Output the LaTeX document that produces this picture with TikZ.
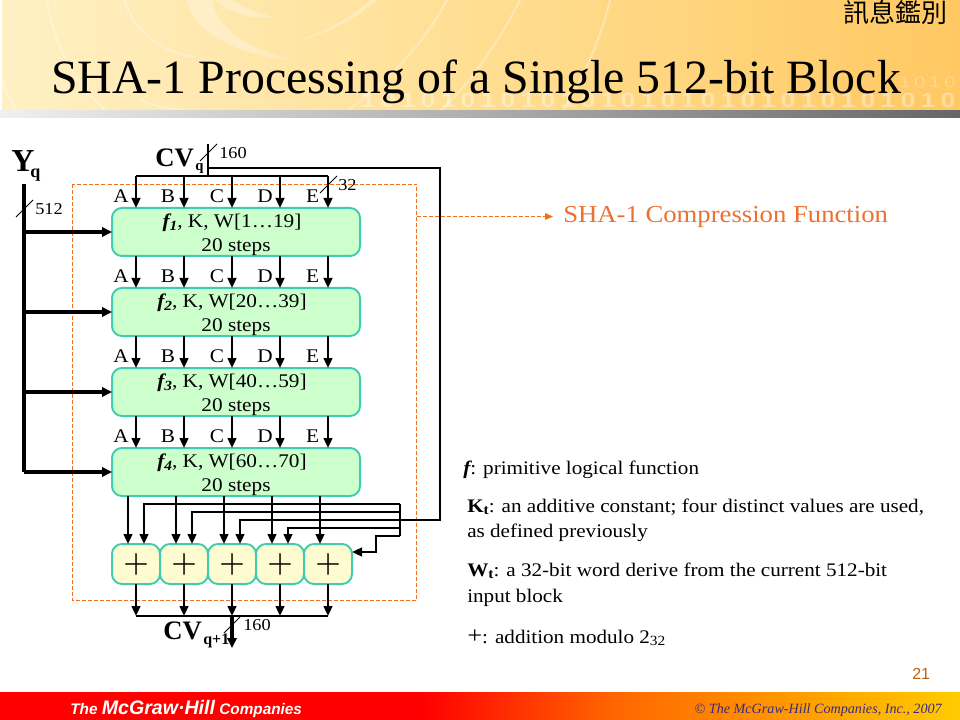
\documentclass[tikz,border=0pt]{standalone}
\usepackage{fontspec}
\setmainfont{Liberation Serif}
\setsansfont{Liberation Sans}
\newfontfamily\cjkfont{Noto Sans CJK TC}
\newfontfamily\wide[FakeStretch=1.1]{Liberation Serif}
\newfontfamily\plusfont[FakeBold=0.6]{Latin Modern Roman}
\newfontfamily\digitfont[FakeStretch=1.3]{Liberation Sans}
\usetikzlibrary{arrows.meta}
\definecolor{tealb}{HTML}{40CCB0}
\definecolor{greenf}{HTML}{CCFFCC}
\definecolor{yellf}{HTML}{FFFBD0}
\definecolor{dashor}{HTML}{F07020}
\definecolor{titleor}{HTML}{EE7030}
\definecolor{pagenum}{HTML}{C06010}
\definecolor{copyc}{HTML}{3A2A80}
\definecolor{hl}{HTML}{FFF0C4}
\definecolor{hm}{HTML}{FFDE92}
\definecolor{hr}{HTML}{FFC862}
\definecolor{fo}{HTML}{FF6600}
\definecolor{fy}{HTML}{FFCC00}
\pgfdeclarehorizontalshading{footshade}{100bp}{color(0bp)=(red);color(47bp)=(red);color(57bp)=(fo);color(75bp)=(fy);color(100bp)=(fy)}
\pgfdeclarehorizontalshading{stripshade}{100bp}{color(0bp)=(white!94!black);color(25bp)=(white!94!black);color(50bp)=(white!68!black);color(75bp)=(white!40!black);color(100bp)=(white!40!black)}
\pgfdeclarehorizontalshading{headshade}{100bp}{color(0bp)=(hl);color(25bp)=(hl);color(50bp)=(hm);color(75bp)=(hr);color(100bp)=(hr)}
\newcommand{\fsub}[1]{{\bfseries\itshape f\raisebox{-.3ex}{\fontsize{10.5pt}{12pt}\selectfont #1}}}
\newcommand{\firstline}{\rule{0pt}{14.8pt}}
\newcommand{\lineend}{\hspace*{6pt}}
\tikzset{
 x=0.75pt,y=-0.75pt,
 fbox/.style={draw=tealb,line width=1.5pt,fill=greenf,rounded corners=7.5pt,minimum width=186pt,minimum height=36pt,inner sep=0pt,outer sep=0pt,align=center,font=\wide\fontsize{14.5pt}{18pt}\selectfont},
 addbox/.style={draw=tealb,line width=1.5pt,fill=yellf,rounded corners=7.5pt,minimum width=36pt,minimum height=30pt,inner sep=0pt,outer sep=0pt,font=\plusfont\fontsize{26pt}{26pt}\selectfont},
 wire/.style={line width=1.7pt,black},
 awire/.style={wire,-{Triangle[length=7.5pt,width=6.5pt]}},
 hwire/.style={line width=2.3pt,black,-{Triangle[length=7.5pt,width=7pt]}},
 hline/.style={line width=2.3pt,black},
 slash/.style={line width=0.6pt,black},
 lab/.style={inner sep=0pt,font=\wide\fontsize{14.5pt}{16pt}\selectfont},
 num/.style={inner sep=0pt,anchor=base west,font=\wide\fontsize{12.5pt}{14pt}\selectfont},
 note/.style={inner sep=0pt,anchor=base west,font=\wide\fontsize{14.4pt}{16pt}\selectfont},
 dashb/.style={draw=dashor,line width=0.6pt,dash pattern=on 3pt off 1.5pt},
 swirl/.style={fill=white,opacity=.3},
 swline/.style={draw=white,opacity=.32,line width=1.6pt},
 digit/.style={inner sep=0pt,text=white,opacity=.38,font=\digitfont\bfseries\fontsize{15.5pt}{16pt}\selectfont},
 digitb/.style={inner sep=0pt,text=white,opacity=.25,font=\digitfont\fontsize{11.5pt}{12pt}\selectfont},
}
\begin{document}
\begin{tikzpicture}
\useasboundingbox (0,0) rectangle (960,720);
\fill[white] (0,0) rectangle (960,720);
% header
\shade[shading=headshade] (2,0) rectangle (960,111);
\begin{scope}
\clip (2,0) rectangle (960,111);
\draw[swline] (47,0) .. controls (52,40) and (75,85) .. (107,111);
\draw[swline] (2,80) .. controls (6,92) and (11,102) .. (17,111);
\draw[swline] (125,0) .. controls (132,30) and (160,52) .. (195,57);
\fill[swirl] (187,0) .. controls (195,35) and (240,55) .. (290,60) .. controls (250,48) and (218,32) .. (212,0) -- cycle;
\fill[swirl] (215,0) .. controls (228,12) and (250,20) .. (273,17) .. controls (255,12) and (240,6) .. (232,0) -- cycle;
\fill[swirl] (297,41) .. controls (325,34) and (355,20) .. (377,0) -- (370,0) .. controls (350,18) and (325,32) .. (297,41) -- cycle;
\draw[swline] (447,0) .. controls (425,42) and (390,80) .. (347,111);
\draw[swline] (520,0) .. controls (505,30) and (475,80) .. (440,111);
\draw[swline] (610,0) .. controls (600,40) and (585,75) .. (563,111);
\draw[swline] (140,100) .. controls (160,108) and (180,111) .. (200,111);
\foreach \i in {0,...,29}{
  \node[digit] (bit\i) at ({948-20*\i},100.5) {\ifodd\i\relax 1\else 0\fi};
}
\foreach \i in {0,...,3}{
  \node[digitb] (cit\i) at ({950-15*\i},82) {\ifodd\i\relax 1\else 0\fi};
}
\end{scope}
\shade[shading=stripshade] (0,111) rectangle (960,118);
\node[inner sep=0pt,anchor=base east,font=\cjkfont\fontsize{19.5pt}{20pt}\selectfont] (tag) at (948,23) {訊息鑑別};
\node[inner sep=0pt,anchor=base west,font=\fontsize{35.85pt}{40pt}\selectfont] (title) at (51,94) {SHA-1 Processing of a Single 512-bit Block};
% footer
\shade[shading=footshade] (0,692) rectangle (960,720);
\node[inner sep=0pt,anchor=base west,text=white,font=\sffamily\bfseries\itshape\fontsize{11.5pt}{14pt}\selectfont] (mh) at (70,714) {The {\fontsize{14.7pt}{14pt}\selectfont McGraw·Hill} Companies};
\node[inner sep=0pt,anchor=base east,text=copyc,font=\itshape\fontsize{10.6pt}{14pt}\selectfont] (copy) at (942,713) {© The McGraw-Hill Companies, Inc., 2007};
\node[inner sep=0pt,anchor=base west,text=pagenum,font=\sffamily\fontsize{12pt}{14pt}\selectfont] (pg) at (912,679) {21};
% dashed frame
\coordinate (fa) at (72.5,184); \coordinate (fb) at (416.5,600.5);
\draw[dashb] (fa) rectangle (fb);
% columns
\coordinate (xa) at (136,0); \coordinate (xb) at (184,0); \coordinate (xc) at (232,0); \coordinate (xd) at (280,0); \coordinate (xe) at (328,0);
% boxes
\node[fbox] (f1) at (236,232) {\firstline\fsub{1}, K, W[1…19]\lineend\\20 steps};
\node[fbox] (f2) at (236,312) {\firstline\fsub{2}, K, W[20…39]\lineend\\20 steps};
\node[fbox] (f3) at (236,392) {\firstline\fsub{3}, K, W[40…59]\lineend\\20 steps};
\node[fbox] (f4) at (236,472) {\firstline\fsub{4}, K, W[60…70]\lineend\\20 steps};
\node[addbox] (pa) at (136,564) {+};
\node[addbox] (pb) at (184,564) {+};
\node[addbox] (pc) at (232,564) {+};
\node[addbox] (pd) at (280,564) {+};
\node[addbox] (pe) at (328,564) {+};
% Y input
\coordinate (ytop) at (24,184);
\coordinate (ybot) at (24,472);
\draw[hline] (ytop) -- (ybot);
\draw[hwire] (ybot) -- (f4.west);
\draw[hwire] (24,232) -- (f1.west);
\draw[hwire] (24,312) -- (f2.west);
\draw[hwire] (24,392) -- (f3.west);
\draw[slash] (16,217) -- (33,200);
% CV input
\coordinate (cvtop) at (208,144);
\coordinate (cvbus) at (208,176);
\draw[wire] (cvtop) -- (cvbus);
\draw[wire] (cvbus -| xa) -- (cvbus -| xe);
\foreach \c in {xa,xb,xc,xd,xe}{
  \draw[awire] (cvbus -| \c) -- (f1.north -| \c);
  \draw[awire] (f1.south -| \c) -- (f2.north -| \c);
  \draw[awire] (f2.south -| \c) -- (f3.north -| \c);
  \draw[awire] (f3.south -| \c) -- (f4.north -| \c);
}
\draw[slash] (200,161) -- (217,144);
\draw[slash] (320,193) -- (337,176);
% f4 to adders
\draw[awire] (f4.south -| 128,0) -- (128,544);
\draw[awire] (f4.south -| 176,0) -- (176,544);
\draw[awire] (f4.south -| 224,0) -- (224,544);
\draw[awire] (f4.south -| 272,0) -- (272,544);
\draw[awire] (f4.south -| 320,0) -- (320,544);
% feedback
\coordinate (fbs) at (208,168);
\coordinate (fbr) at (440,168);
\coordinate (fbb) at (440,520);
\coordinate (bus1) at (400,504);
\coordinate (bus5) at (400,536);
\draw[wire] (fbs) -- (fbr) -- (fbb) -- (400,520);
\draw[wire] (bus1) -- (bus5);
\draw[awire] (bus1) -- (144,504) -- (144,544);
\draw[awire] (400,512) -- (192,512) -- (192,544);
\draw[awire] (400,520) -- (240,520) -- (240,544);
\draw[awire] (400,528) -- (288,528) -- (288,544);
\draw[awire] (bus5) -- (376,536) -- (376,552) -- (352,552);
% output
\coordinate (obus) at (232,616);
\coordinate (oend) at (232,648);
\foreach \c/\n in {xa/pa,xb/pb,xc/pc,xd/pd,xe/pe}{
  \draw[awire] (\n.south) -- (obus -| \c);
}
\draw[wire] (obus -| xa) -- (obus -| xe);
\draw[hwire] (obus) -- (oend);
\draw[slash] (224,633) -- (240,617);
% compression arrow
\coordinate (da) at (416.5,216.5); \coordinate (db) at (553,216.5);
\draw[dashb,-{Triangle[length=6pt,width=5pt]}] (da) -- (db);
% labels
\foreach \y/\r in {196/a,276/b,356/c,436/d}{
 \node[lab] (A\r) at (121,\y) {A};
 \node[lab] (B\r) at (168,\y) {B};
 \node[lab] (C\r) at (217,\y) {C};
 \node[lab] (D\r) at (265,\y) {D};
 \node[lab] (E\r) at (312.5,\y) {E};
}
\node[inner sep=0pt,anchor=base west,font=\bfseries\fontsize{24pt}{28pt}\selectfont] (yq) at (11,172) {Y\kern-3pt\raisebox{-4.5pt}{\fontsize{13.5pt}{16pt}\selectfont q}};
\node[inner sep=0pt,anchor=base west,font=\bfseries\fontsize{20pt}{24pt}\selectfont] (cvq) at (155,167) {CV};
\node[inner sep=0pt,anchor=base west,font=\bfseries\fontsize{11pt}{16pt}\selectfont] (cvqs) at (195,171) {q};
\node[inner sep=0pt,anchor=base west,font=\bfseries\fontsize{20pt}{24pt}\selectfont] (cvp) at (163,639) {CV};
\node[inner sep=0pt,anchor=base west,font=\bfseries\fontsize{12pt}{16pt}\selectfont] (cvps) at (203,644) {q+1};
\node[num] (n1) at (219,159) {160};
\node[num] (n2) at (338,191) {32};
\node[num] (n3) at (35,215) {512};
\node[num] (n4) at (243,630) {160};
\node[inner sep=0pt,anchor=base west,text=titleor,font=\wide\fontsize{18.2pt}{20pt}\selectfont] (comp) at (563,223) {SHA-1 Compression Function};
% notes
\node[note] (t1) at (463,474) {{\bfseries\itshape f}: primitive logical function};
\node[note] (t2) at (467,512) {\textbf{K\raisebox{-.25ex}{\fontsize{10.5pt}{12pt}\selectfont t}}: an additive constant; four distinct values are used,};
\node[note] (t3) at (467,537) {as defined previously};
\node[note] (t4) at (467,576) {\textbf{W\raisebox{-.25ex}{\fontsize{10.5pt}{12pt}\selectfont t}}: a 32-bit word derive from the current 512-bit};
\node[note] (t5) at (467,602) {input block};
\node[note] (t6) at (467,643) {{\fontsize{18pt}{18pt}\selectfont +}: addition modulo 2\raisebox{-.3ex}{\fontsize{10.5pt}{12pt}\selectfont 32}};
\end{tikzpicture}
\end{document}
